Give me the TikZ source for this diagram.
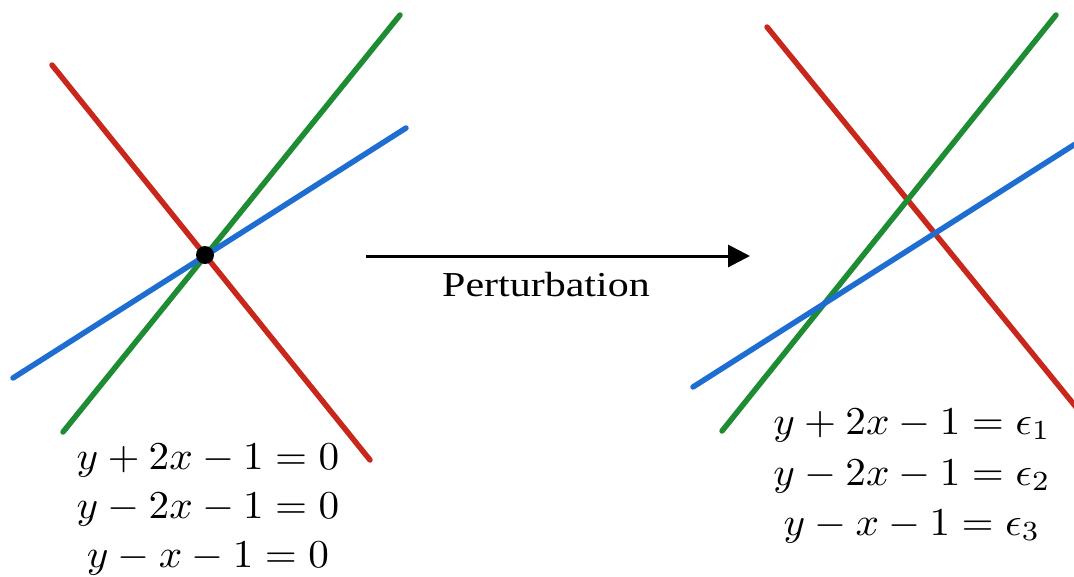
\documentclass[tikz,border=0pt]{standalone}
\usepackage{fontspec}
\newfontfamily\timesfont{Liberation Serif}
\usetikzlibrary{arrows.meta}
\definecolor{lred}{RGB}{200,40,28}
\definecolor{lgreen}{RGB}{30,140,50}
\definecolor{lblue}{RGB}{30,110,210}
\tikzset{
  ln/.style={line width=5.5pt, line cap=round},
  eq/.style={anchor=base, inner sep=0pt},
}
\newcommand{\bigeq}[1]{\scalebox{4.12}[3.95]{$#1$}}
\begin{document}
\begin{tikzpicture}[x=1pt,y=-1pt]
\useasboundingbox (0,0) rectangle (1074,576);
% left panel
\coordinate (r1) at (52,65);   \coordinate (r2) at (370,460);
\coordinate (g1) at (63,432);  \coordinate (g2) at (400,15);
\coordinate (b1) at (13,378);  \coordinate (b2) at (406,128);
\draw[ln,lred] (r1) -- (r2);
\draw[ln,lgreen] (g1) -- (g2);
\draw[ln,lblue] (b1) -- (b2);
\node[circle, fill=black, inner sep=0pt, minimum size=18pt] (dot) at (205,255) {};
% right panel
\coordinate (R1) at (767,27);  \coordinate (R2) at (1080,412);
\coordinate (G1) at (722,431); \coordinate (G2) at (1056,15);
\coordinate (B1) at (693,387); \coordinate (B2) at (1080,141);
\draw[ln,lred] (R1) -- (R2);
\draw[ln,lgreen] (G1) -- (G2);
\draw[ln,lblue] (B1) -- (B2);
% arrow
\coordinate (a1) at (366,256); \coordinate (a2) at (750,256);
\draw[line width=3pt, -{Triangle[length=22pt,width=22pt]}] (a1) -- (a2);
\node[anchor=base, inner sep=0pt, font=\timesfont\fontsize{35}{42}\selectfont] (pert) at (546,296) {\scalebox{1.2}[1]{Perturbation}};
% equations
\node[eq] (l1) at (208,469) {\bigeq{y+2x-1=0}};
\node[eq] (l2) at (208,518) {\bigeq{y-2x-1=0}};
\node[eq] (l3) at (208,567) {\bigeq{y-x-1=0}};
\node[eq] (q1) at (912,434) {\bigeq{y+2x-1=\epsilon_1}};
\node[eq] (q2) at (912,485) {\bigeq{y-2x-1=\epsilon_2}};
\node[eq] (q3) at (912,535) {\bigeq{y-x-1=\epsilon_3}};
\end{tikzpicture}
\end{document}
